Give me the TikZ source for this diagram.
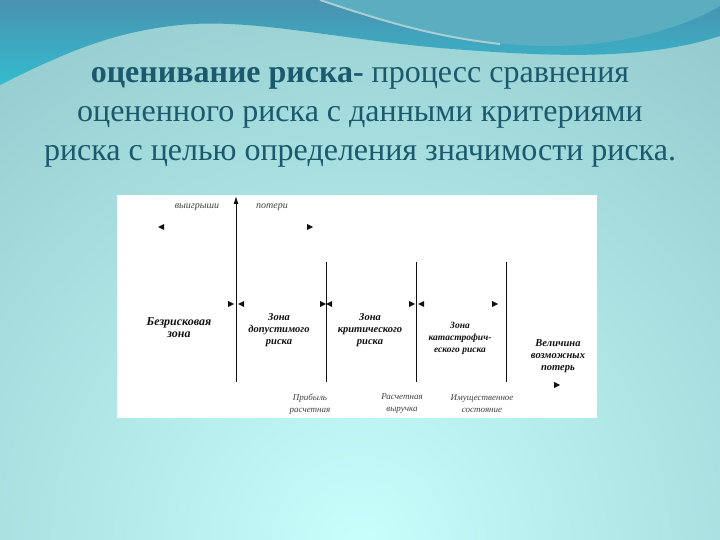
\documentclass[tikz,border=0pt]{standalone}
\usepackage{fontspec}
\setmainfont{Liberation Serif}
\usetikzlibrary{arrows.meta}
\definecolor{bgin}{HTML}{C6FFFC}
\definecolor{bgout}{HTML}{7FB4BA}
\definecolor{bandtop}{HTML}{4A92B0}
\definecolor{bandbot}{HTML}{34BCCE}
\definecolor{swoosh}{HTML}{5AAEBF}
\definecolor{swline}{HTML}{A9CDD4}
\definecolor{titlec}{HTML}{1B5A6D}
\definecolor{ink}{HTML}{111111}
\tikzset{
  titletext/.style={align=center, text=titlec, font=\fontsize{32}{39}\selectfont, inner sep=0pt},
  zone/.style={align=center, text=ink, font=\fontsize{10.5}{12}\selectfont\itshape\bfseries, inner sep=0pt},
  lbl/.style={align=center, text=ink!80, font=\fontsize{9}{12}\selectfont\itshape, inner sep=0pt},
  toplbl/.style={lbl, font=\fontsize{10}{12}\selectfont\itshape},
  divider/.style={draw=ink, line width=1pt},
  rtri/.pic={\fill[ink] (-3,-3) -- (3,0) -- (-3,3) -- cycle;},
  ltri/.pic={\fill[ink] (3,-3) -- (-3,0) -- (3,3) -- cycle;}
}
\begin{document}
\begin{tikzpicture}[x=1pt,y=-1pt]
\useasboundingbox (0,0) rectangle (720,540);
\begin{scope}
  \clip (0,0) rectangle (720,540);
  \shade[inner color=bgin, outer color=bgout] (360,545) circle (900);
  % top band
  \shade[top color=bandtop, bottom color=bandbot]
    (0,0) -- (720,0) -- (720,36)
    .. controls (640,62) and (540,56) .. (440,48)
    .. controls (330,38) and (250,18) .. (180,25)
    .. controls (110,32) and (60,55) .. (0,85) -- cycle;
  % swoosh
  \fill[swoosh] (320,0) .. controls (400,26) and (470,46) .. (550,46)
    .. controls (630,46) and (690,24) .. (720,6) -- (720,0) -- cycle;
  \draw[swline, line width=2pt] (320,0) .. controls (380,20) and (430,36) .. (500,44);
\end{scope}

\node[titletext] (ttl) at (360,117) {\textbf{оценивание риска-} процесс сравнения\\оцененного риска с данными критериями\\риска с целью определения значимости риска.};

% white panel
\fill[white] (117,195) rectangle (597,418);

% axis and dividers
\coordinate (axbot) at (236,382);
\coordinate (axtop) at (236,196);
\draw[divider, -{Latex[length=8pt,width=5pt]}] (axbot) -- (axtop);
\coordinate (d1t) at (326,262); \coordinate (d1b) at (326,382);
\coordinate (d2t) at (416,262); \coordinate (d2b) at (416,382);
\coordinate (d3t) at (506,262); \coordinate (d3b) at (506,382);
\draw[divider] (d1t) -- (d1b);
\draw[divider] (d2t) -- (d2b);
\draw[divider] (d3t) -- (d3b);

% top labels
\node[toplbl] (win) at (197,207) {выигрыши};
\node[toplbl] (loss) at (272,207) {потери};
\pic at (161,227) {ltri};
\pic at (310,227) {rtri};

% markers on boundary row
\pic at (231,304) {rtri};
\pic at (241,304) {ltri};
\pic at (323,304) {rtri};
\pic at (329,304) {ltri};
\pic at (412,304) {rtri};
\pic at (421,304) {ltri};
\pic at (495,304) {rtri};
\pic at (557,385) {rtri};

% zone labels
\node[zone, font=\fontsize{12}{12}\selectfont\itshape\bfseries] (z0) at (179,328) {Безрисковая\\зона};
\node[zone] (z1) at (279,330) {Зона\\допустимого\\риска};
\node[zone] (z2) at (370,330) {Зона\\критического\\риска};
\node[zone, font=\fontsize{9.5}{12}\selectfont\itshape\bfseries] (z3) at (460,338) {Зона\\катастрофич-\\еского риска};
\node[zone] (z4) at (558,356) {Величина\\возможных\\потерь};

% bottom labels
\node[lbl] (b1) at (310,404) {Прибыль\\расчетная};
\node[lbl] (b2) at (402,404) {Расчетная\\выручка};
\node[lbl] (b3) at (482,404) {Имущественное\\состояние};
\end{tikzpicture}
\end{document}
